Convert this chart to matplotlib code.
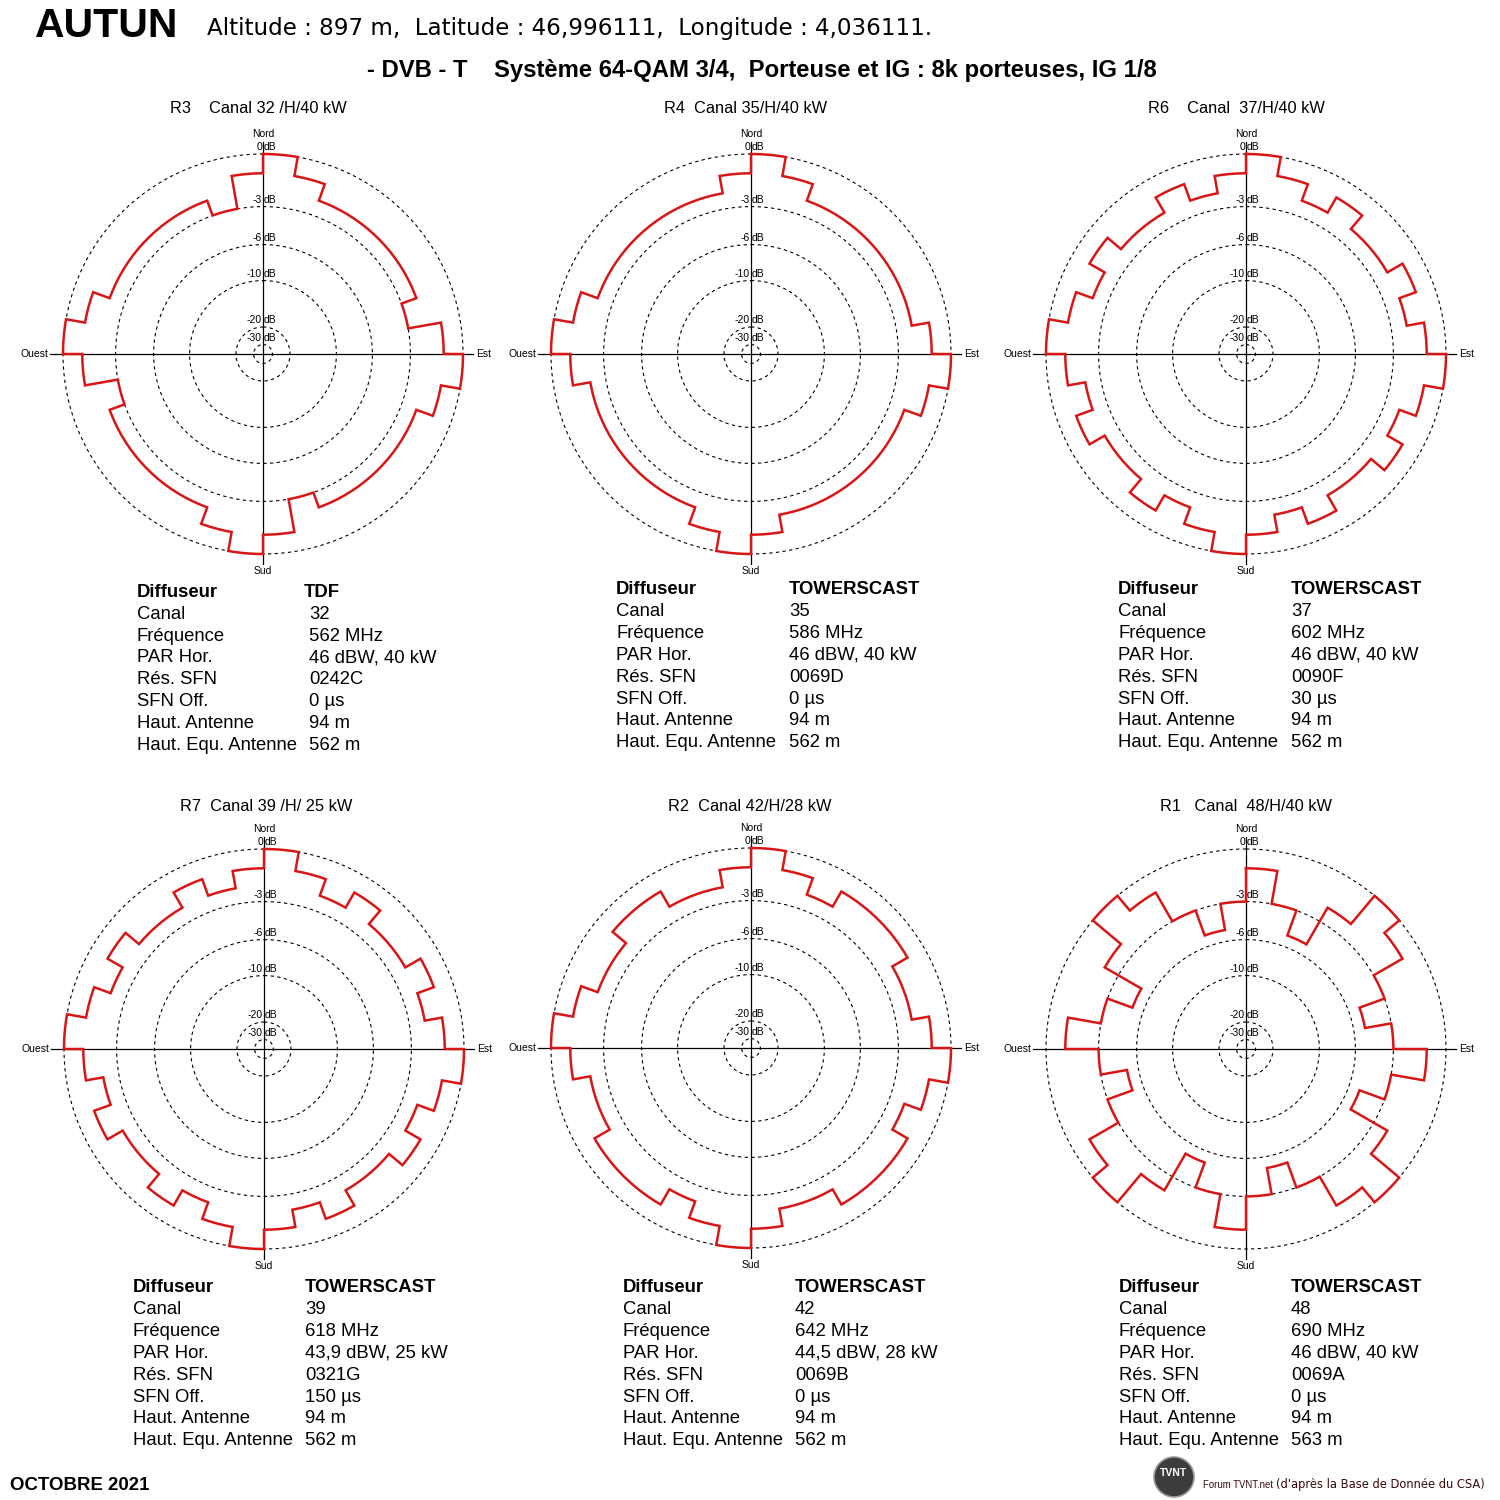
import numpy as np
import matplotlib.pyplot as plt

plt.rcParams['font.family'] = ['Liberation Sans', 'DejaVu Sans']

# attenuation per 10 degree sector, clockwise from north (dB)
r3_db = [0, -1.1, -2.1, -2.1, -2.1, -2.1, -2.1, -3.0, -1.1,
         0, -1.1, -2.1, -2.1, -2.1, -2.1, -2.1, -3.0, -1.1,
         0, -1.1, -2.1, -2.1, -2.1, -2.1, -2.1, -3.0, -1.1,
         0, -1.1, -2.1, -2.1, -2.1, -2.1, -2.1, -3.0, -1.1]
r4_db = [0, -1.1, -2.1, -2.1, -2.1, -2.1, -2.1, -2.1, -1.1,
         0, -1.1, -2.1, -2.1, -2.1, -2.1, -2.1, -2.1, -1.1,
         0, -1.1, -2.1, -2.1, -2.1, -2.1, -2.1, -2.1, -1.1,
         0, -1.1, -2.1, -2.1, -2.1, -2.1, -2.1, -2.1, -1.1]
r6_db = [0, -1.1, -2.1, -1.1, -2.1, -2.1, -1.1, -2.1, -1.1,
         0, -1.1, -2.1, -1.1, -2.1, -2.1, -1.1, -2.1, -1.1,
         0, -1.1, -2.1, -1.1, -2.1, -2.1, -1.1, -2.1, -1.1,
         0, -1.1, -2.1, -1.1, -2.1, -2.1, -1.1, -2.1, -1.1]
r7_db = [0, -1.1, -2.1, -1.1, -2.1, -2.1, -1.1, -2.1, -1.1,
         0, -1.1, -2.1, -1.1, -2.1, -2.1, -1.1, -2.1, -1.1,
         0, -1.1, -2.1, -1.1, -2.1, -2.1, -1.1, -2.1, -1.1,
         0, -1.1, -2.1, -1.1, -2.1, -2.1, -1.1, -2.1, -1.1]
r2_db = [0, -1.1, -2.1, -1.1, -1.1, -1.1, -2.1, -2.1, -1.1,
         0, -1.1, -2.1, -1.1, -1.1, -1.1, -2.1, -2.1, -1.1,
         0, -1.1, -2.1, -1.1, -1.1, -1.1, -2.1, -2.1, -1.1,
         0, -1.1, -2.1, -2.1, -1.1, -1.1, -2.1, -2.1, -1.1]
r1_db = [-1.1, -3.0, -5.1, -2.1, 0, -1.1, -3.0, -5.1, -3.0,
         -1.1, -3.0, -5.1, -2.1, 0, -1.1, -3.0, -5.1, -3.0,
         -1.1, -3.0, -5.1, -2.1, 0, -1.1, -3.0, -5.1, -3.0,
         -1.1, -3.0, -5.1, -2.1, 0, -1.1, -3.0, -5.1, -3.0]

titles = ["R3    Canal 32 /H/40 kW", "R4  Canal 35/H/40 kW", "R6    Canal  37/H/40 kW",
          "R7  Canal 39 /H/ 25 kW", "R2  Canal 42/H/28 kW", "R1   Canal  48/H/40 kW"]
patterns = [r3_db, r4_db, r6_db, r7_db, r2_db, r1_db]

row_labels = ["Diffuseur", "Canal", "Fréquence", "PAR Hor.", "Rés. SFN", "SFN Off.",
              "Haut. Antenne", "Haut. Equ. Antenne"]
diffuseur = ["TDF", "TOWERSCAST", "TOWERSCAST", "TOWERSCAST", "TOWERSCAST", "TOWERSCAST"]
canal = ["32", "35", "37", "39", "42", "48"]
frequence = ["562 MHz", "586 MHz", "602 MHz", "618 MHz", "642 MHz", "690 MHz"]
par_hor = ["46 dBW, 40 kW", "46 dBW, 40 kW", "46 dBW, 40 kW", "43,9 dBW, 25 kW",
           "44,5 dBW, 28 kW", "46 dBW, 40 kW"]
res_sfn = ["0242C", "0069D", "0090F", "0321G", "0069B", "0069A"]
sfn_off = ["0 µs", "0 µs", "30 µs", "150 µs", "0 µs", "0 µs"]
haut_ant = ["94 m", "94 m", "94 m", "94 m", "94 m", "94 m"]
haut_equ = ["562 m", "562 m", "562 m", "562 m", "562 m", "563 m"]

# radial scale of the diagrams: dB -> fraction of radius
ring_db = [-40, -30, -20, -10, -6, -3, 0]
ring_r = [0, 0.047, 0.135, 0.367, 0.547, 0.737, 1.0]
grid_db = [-30, -20, -10, -6, -3, 0]


def fwd(v):
    return np.interp(v, ring_db, ring_r)


def inv(v):
    return np.interp(v, ring_r, ring_db)


W = H = 1500
R = 200
RED = '#d81616'

# layout (pixels)
centers = [(263, 354), (751, 354), (1246, 354), (264, 1049), (751, 1048), (1246, 1049)]
title_pos = [(170, 113), (664, 113), (1148, 113), (180, 811), (668, 811), (1160, 811)]
table_pos = [(137, 309, 597), (616, 789, 594.5), (1118, 1291, 594.5),
             (133, 305, 1292.5), (623, 795, 1292.5), (1119, 1291, 1292.5)]
ROW_STEP = 21.8

fig = plt.figure(figsize=(15, 15), dpi=100)


def fx(x):
    return x / W


def fy(y):
    return 1 - y / H


def draw_panel(cx, cy, pattern):
    ax = fig.add_axes([fx(cx - R), fy(cy + R), 2 * R / W, 2 * R / H], projection='polar')
    ax.set_theta_zero_location('N')
    ax.set_theta_direction(-1)
    ax.set_rscale('function', functions=(fwd, inv))
    ax.set_rlim(-40, 0)
    ax.grid(False)
    ax.set_xticks([])
    ax.set_yticks([])
    ax.spines['polar'].set_visible(False)
    ax.patch.set_visible(False)

    theta = np.linspace(0, 2 * np.pi, 721)
    for db in grid_db:
        ax.plot(theta, np.full_like(theta, db), color='k', lw=0.8,
                ls=(0, (3, 3)), clip_on=False)
        ax.annotate(f"{db}", xy=(0, db), xytext=(-0.8, 1.2), textcoords='offset points',
                    ha='right', va='bottom', fontsize=7.5, annotation_clip=False)
        ax.annotate("dB", xy=(0, db), xytext=(0.8, 1.2), textcoords='offset points',
                    ha='left', va='bottom', fontsize=7.5, annotation_clip=False)

    ax.plot([0.5, 0.5], [-0.025, 1.03], transform=ax.transAxes, color='k', lw=0.9, clip_on=False)
    ax.plot([-0.032, 1.025], [0.5, 0.5], transform=ax.transAxes, color='k', lw=0.9, clip_on=False)
    ax.text(0.5, 1.05, "Nord", transform=ax.transAxes, ha='center', va='center', fontsize=7.5)
    ax.text(0.5, -0.042, "Sud", transform=ax.transAxes, ha='center', va='center', fontsize=7.5)
    ax.text(-0.036, 0.5, "Ouest", transform=ax.transAxes, ha='right', va='center', fontsize=7.5)
    ax.text(1.032, 0.5, "Est", transform=ax.transAxes, ha='left', va='center', fontsize=7.5)

    th, rr = [], []
    for i, v in enumerate(pattern):
        t = np.linspace(10 * i, 10 * (i + 1), 8)
        th.extend(t)
        rr.extend([v] * len(t))
    th.append(th[0])
    rr.append(rr[0])
    ax.plot(np.deg2rad(th), rr, color=RED, lw=1.8, clip_on=False, solid_joinstyle='miter')


for k in range(6):
    cx, cy = centers[k]
    draw_panel(cx, cy, patterns[k])
    tx, ty = title_pos[k]
    fig.text(fx(tx), fy(ty), titles[k], fontsize=11.8, va='baseline', ha='left')

    lx, vx, by = table_pos[k]
    values = [diffuseur[k], canal[k], frequence[k], par_hor[k], res_sfn[k],
              sfn_off[k], haut_ant[k], haut_equ[k]]
    for j, (lab, val) in enumerate(zip(row_labels, values)):
        y = by + j * ROW_STEP
        bold = 'bold' if j == 0 else 'normal'
        vxx = vx - 5 if (j == 0 and k == 0) else vx
        fig.text(fx(lx), fy(y), lab, fontsize=13.3, fontweight=bold, va='baseline')
        fig.text(fx(vxx), fy(y), val, fontsize=13.3, fontweight=bold, va='baseline')

# header
fig.text(fx(35), fy(37), "AUTUN", fontsize=29.4, fontweight='bold', va='baseline')
fig.text(fx(207), fy(35.5), "Altitude : 897 m,  Latitude : 46,996111,  Longitude : 4,036111.",
         fontsize=16.55, va='baseline', family='DejaVu Sans')
fig.text(fx(367), fy(76.5), "- DVB - T    Système 64-QAM 3/4,  Porteuse et IG : 8k porteuses, IG 1/8",
         fontsize=17.2, fontweight='bold', va='baseline')

# footer
fig.text(fx(10), fy(1490), "OCTOBRE 2021", fontsize=13.4, fontweight='bold', va='baseline')
logo = plt.Circle((fx(1174), fy(1477)), 20 / W, transform=fig.transFigure,
                  facecolor='#3c3c3c', edgecolor='#9a9a9a', lw=1.2)
fig.add_artist(logo)
fig.text(fx(1174), fy(1473), "TVNT", color='white', fontsize=7.5, fontweight='bold',
         ha='center', va='center')
fig.text(fx(1203), fy(1488), "Forum TVNT.net", color='#3a0a0a', fontsize=6.9, va='baseline')
fig.text(fx(1276), fy(1488), "(d'après la Base de Donnée du CSA)", color='#3a0a0a',
         fontsize=8.3, va='baseline', family='DejaVu Sans')

fig.savefig("out.png", dpi=100, facecolor='white')
